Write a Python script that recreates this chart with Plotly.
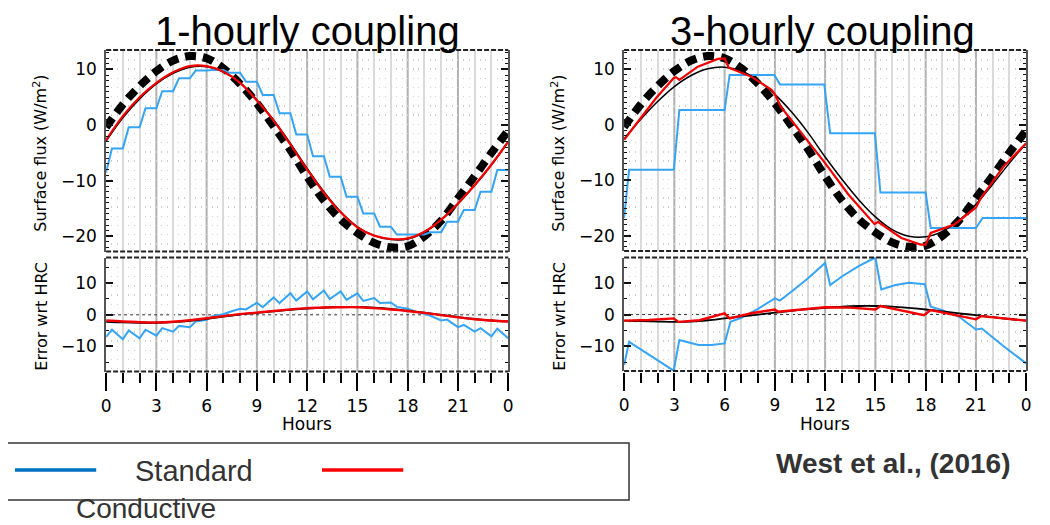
import plotly.graph_objects as go

# page offset of the plot div (browser default body margin)
OFF = 8
FW, FH = 1042, 517

# ---------------- text ----------------
panel_titles = ["1-hourly coupling", "3-hourly coupling"]
series_names = ["Standard", "Conductive"]
y_titles = ["Surface flux (W/m<sup>2</sup>)", "Error wrt HRC"]
x_title = "Hours"
x_tick_vals = [0, 3, 6, 9, 12, 15, 18, 21, 24]
x_tick_text = ["0", "3", "6", "9", "12", "15", "18", "21", "0"]
flux_ticks = [-20, -10, 0, 10]
err_ticks = [-10, 0, 10]
citation = "West et al., (2016)"

# ---------------- data ----------------
hours = list(range(25))

# high-resolution coupling reference (thick dashed black)
hrc_flux = [-0.4, 3.7, 7.0, 9.7, 11.6, 12.4, 12.0, 10.2, 7.4, 3.9, -0.2, -4.5, -9.3,
            -13.6, -17.0, -19.4, -21.2, -22.0, -21.8, -20.0, -17.2, -13.2, -9.2, -5.0, -1.0]

# ---- 1-hourly coupling ----
h1_black_flux = [-2.9, 1.3, 4.7, 7.4, 9.3, 10.4, 10.5, 9.6, 7.6, 4.5, 0.9, -3.3, -7.8,
                 -12.0, -15.6, -18.3, -19.9, -20.6, -20.5, -19.3, -17.1, -14.2, -10.9, -7.2, -3.0]
h1_red_flux = [-2.7, 1.6, 5.0, 7.6, 9.5, 10.6, 10.6, 9.6, 7.6, 4.4, 0.8, -3.5, -8.0,
               -12.2, -15.7, -18.4, -19.9, -20.5, -20.4, -19.2, -17.0, -14.1, -10.8, -7.1, -3.0]
h1_blue_t = [0, 0.35, 1, 1.35, 2, 2.35, 3, 3.35, 4, 4.35, 5, 5.35, 6, 6.35, 7, 7.35, 8, 8.35,
             9, 9.35, 10, 10.35, 11, 11.35, 12, 12.35, 13, 13.35, 14, 14.35, 15, 15.35, 16, 16.35,
             17, 17.35, 18, 18.35, 19, 19.35, 20, 20.35, 21, 21.35, 22, 22.35, 23, 23.35, 24]
h1_blue_flux = [-8.5, -4.2, -4.2, -0.4, -0.4, 3.0, 3.0, 6.1, 6.1, 8.4, 8.4, 9.8, 9.8, 9.9, 9.9,
                9.4, 9.4, 7.8, 7.8, 5.4, 5.4, 2.1, 2.1, -1.7, -1.7, -5.6, -5.6, -9.3, -9.3,
                -12.9, -12.9, -15.9, -15.9, -18.3, -18.3, -19.7, -19.7, -19.7, -19.7, -19.3,
                -19.3, -17.4, -17.4, -15.3, -15.3, -12.0, -12.0, -8.1, -8.1]

h1_black_err = [-2.2, -2.4, -2.5, -2.5, -2.3, -1.9, -1.3, -0.6, 0.1, 0.6, 1.1, 1.6, 2.0,
                2.3, 2.5, 2.5, 2.3, 1.9, 1.3, 0.7, 0.0, -0.7, -1.3, -1.8, -2.1]
h1_red_err = [-1.8, -2.1, -2.3, -2.4, -2.2, -1.7, -1.1, -0.4, 0.2, 0.7, 1.2, 1.7, 2.1,
              2.3, 2.4, 2.4, 2.1, 1.7, 1.2, 0.6, -0.1, -0.8, -1.4, -1.8, -2.1]
h1_blue_err = [-7.0, -4.7, -7.7, -4.9, -7.4, -4.7, -6.6, -4.2, -5.3, -3.5, -3.9, -2.1, -1.6,
               -0.4, 0.2, 0.9, 1.9, 1.7, 3.8, 2.4, 5.5, 3.7, 6.8, 4.5, 7.4, 4.9, 7.7, 5.0,
               7.4, 4.7, 6.8, 4.4, 5.3, 3.7, 3.9, 2.5, 1.9, 1.2, 0.3, -0.3, -1.8, -1.5,
               -3.9, -3.2, -5.3, -4.2, -6.8, -4.4, -7.4]

# ---- 3-hourly coupling ----
h3_black_flux = [-2.5, 1.0, 4.2, 6.9, 8.9, 10.1, 10.4, 9.7, 8.0, 5.5, 2.3, -1.5, -5.8,
                 -9.8, -13.5, -16.6, -18.9, -20.1, -20.2, -19.2, -17.2, -14.3, -10.7, -6.9, -3.3]
h3_red_t = [0, 0.9, 1.9, 2.95, 3.1, 3.3, 4.4, 5.6, 6.0, 6.25, 7.6, 8.8, 9.0, 9.35, 10.7,
            12.0, 13.4, 14.95, 15.15, 16.55, 17.7, 18.0, 18.3, 19.7, 21.0, 21.3, 22.65, 24]
h3_red_flux = [-2.7, 0.9, 4.8, 8.4, 8.6, 8.1, 10.5, 11.9, 12.0, 10.3, 8.7, 6.3, 5.5, 3.3,
               -1.8, -6.9, -12.6, -17.9, -17.5, -20.4, -21.6, -21.6, -19.5, -18.0, -14.9,
               -13.2, -7.5, -3.3]
h3_blue_t = [0, 0.3, 2.97, 3.3, 6.0, 6.3, 8.97, 9.3, 11.95, 12.3, 14.97, 15.3, 18.0, 18.3,
             21.0, 21.4, 24]
h3_blue_flux = [-16.8, -8.1, -8.1, 2.7, 2.7, 9.0, 9.0, 7.3, 7.3, -1.5, -1.5, -12.2, -12.2,
                -18.6, -18.6, -16.8, -16.8]

h3_black_err = [-1.9, -2.1, -2.2, -2.3, -2.2, -1.8, -1.2, -0.6, 0.0, 0.6, 1.2, 1.7, 2.1,
                2.5, 2.7, 2.7, 2.5, 2.1, 1.6, 1.0, 0.4, -0.2, -0.8, -1.4, -1.9]
h3_red_err_t = [0, 1.5, 2.96, 3.25, 4.5, 6.0, 6.3, 7.6, 9.0, 9.2, 12.0, 13.5, 15.0, 15.3,
                17.9, 18.3, 21.0, 21.3, 24]
h3_red_err = [-1.9, -1.7, -1.2, -2.3, -1.8, 0.4, -1.2, 0.4, 1.6, 0.9, 2.3, 2.2, 1.6, 2.7,
              -0.2, 1.4, -1.5, -0.5, -1.9]
h3_blue_err_t = [0, 0.3, 2.96, 3.3, 4.45, 5.2, 6.0, 6.35, 7.0, 8.0, 9.0, 9.3, 10.0, 11.0,
                 12.0, 12.3, 13.0, 14.0, 15.0, 15.35, 16.2, 17.0, 17.95, 18.3, 19.0, 20.0,
                 21.0, 21.35, 22.56, 24]
h3_blue_err = [-15.9, -8.6, -17.7, -8.0, -9.6, -9.6, -9.1, -2.3, -1.0, 1.8, 5.1, 4.4, 7.3,
               11.5, 16.3, 9.3, 12.0, 15.3, 18.0, 7.9, 9.3, 10.0, 9.6, 2.5, 1.4, -0.7, -4.7,
               -4.4, -9.6, -15.4]

# ---------------- styling ----------------
BLUE = "#35A4F4"
RED = "#F20000"
BLACK = "#000000"
LEG_BLUE = "#0070C0"
AXF = "DejaVu Sans"
PPTF = "Liberation Sans, Arial"


def fx(px):
    return (px - OFF) / FW


def fy(py):
    return 1 - (py - OFF) / FH


# panel geometry in page pixels: (x0, x1, ytop, ybottom, yrange, ticks, minor)
panels = {
    1: (102, 508, 50, 251.5, [-22.75, 13.5], flux_ticks, 1),
    2: (102, 508, 257.5, 371.5, [-17.9, 18.1], err_ticks, 5),
    3: (625, 1031, 50, 251, [-22.75, 13.5], flux_ticks, 1),
    4: (625, 1031, 257.5, 371, [-17.8, 18.0], err_ticks, 5),
}
non3_hours = [h for h in hours if h % 3 != 0]

fig = go.Figure()


def add_line(i, x, y, color, width, dash=None, shape="linear", name=None):
    fig.add_trace(go.Scatter(
        x=x, y=y, mode="lines", name=name, showlegend=False,
        line=dict(color=color, width=width, dash=dash, shape=shape),
        xaxis="x" if i == 1 else f"x{i}", yaxis="y" if i == 1 else f"y{i}",
        hoverinfo="skip"))


# top-left
add_line(1, hours, hrc_flux, BLACK, 8, dash="11px,7px", shape="spline")
add_line(1, h1_blue_t, h1_blue_flux, BLUE, 2, name=series_names[0])
add_line(1, hours, h1_black_flux, BLACK, 1.5, shape="spline")
add_line(1, hours, h1_red_flux, RED, 2.2, shape="spline", name=series_names[1])
# bottom-left
add_line(2, h1_blue_t, h1_blue_err, BLUE, 2, name=series_names[0])
add_line(2, hours, h1_black_err, BLACK, 1.8, shape="spline")
add_line(2, hours, h1_red_err, RED, 2.4, shape="spline", name=series_names[1])
# top-right
add_line(3, hours, hrc_flux, BLACK, 8, dash="11px,7px", shape="spline")
add_line(3, h3_blue_t, h3_blue_flux, BLUE, 2, name=series_names[0])
add_line(3, hours, h3_black_flux, BLACK, 1.5, shape="spline")
add_line(3, h3_red_t, h3_red_flux, RED, 2.2, name=series_names[1])
# bottom-right
add_line(4, h3_blue_err_t, h3_blue_err, BLUE, 2, name=series_names[0])
add_line(4, hours, h3_black_err, BLACK, 1.8, shape="spline")
add_line(4, h3_red_err_t, h3_red_err, RED, 2.4, name=series_names[1])

layout = dict(
    width=FW, height=FH, autosize=False,
    margin=dict(l=0, r=0, t=0, b=0),
    paper_bgcolor="white", plot_bgcolor="white",
    showlegend=False,
)

shapes = []
annotations = []

for i, (x0, x1, yt, yb, yr, ticks, mn) in panels.items():
    xk = "xaxis" if i == 1 else f"xaxis{i}"
    yk = "yaxis" if i == 1 else f"yaxis{i}"
    xr = "x" if i == 1 else f"x{i}"
    yrf = "y" if i == 1 else f"y{i}"
    layout[xk] = dict(
        domain=[fx(x0), fx(x1)], anchor=yrf, range=[0, 24],
        tickmode="array", tickvals=non3_hours, showticklabels=False, ticks="",
        showgrid=True, gridcolor="#dadada", gridwidth=1.5,
        minor=dict(tickmode="linear", tick0=0, dtick=1 / 3, showgrid=True,
                   gridcolor="#cfcfcf", gridwidth=1.4, griddash="1.4px,7.8px", ticks=""),
        showline=False, zeroline=False, fixedrange=True,
    )
    layout[yk] = dict(
        domain=[fy(yb), fy(yt)], anchor=xr, range=yr,
        tickmode="array", tickvals=ticks, ticks="inside", ticklen=7, tickwidth=1.5,
        tickcolor="#111",
        minor=dict(tickmode="linear", tick0=0, dtick=mn, ticks="inside", ticklen=3,
                   tickwidth=1, tickcolor="#111", showgrid=False),
        showline=True, linecolor="#555", linewidth=1.5, mirror="ticks",
        showgrid=False, zeroline=False, fixedrange=True,
        tickfont=dict(family=AXF, size=17, color="black"), ticklabelstandoff=4,
    )
    # dashed top / bottom frame edges
    for yy in (yt, yb):
        shapes.append(dict(type="line", xref="paper", yref="paper",
                           x0=fx(x0), x1=fx(x1), y0=fy(yy), y1=fy(yy),
                           line=dict(color="#222", width=2, dash="5px,2px")))
    # darker 3-hour lines
    for hh in x_tick_vals[1:-1]:
        shapes.append(dict(type="line", xref=xr, yref=f"{yrf} domain",
                           x0=hh, x1=hh, y0=0, y1=1, layer="below",
                           line=dict(color="#b0b0b0", width=2)))

# dotted zero line in error panels
for i in (2, 4):
    shapes.append(dict(type="line", xref=f"x{i} domain", yref=f"y{i}",
                       x0=0, x1=1, y0=0, y1=0, layer="below",
                       line=dict(color="#333", width=1, dash="dot")))

# hour axes below the error panels (thin helper subplots)
for j, (x0, x1, yb) in ((5, (102, 508, 371.5)), (6, (625, 1031, 371))):
    layout[f"xaxis{j}"] = dict(
        domain=[fx(x0), fx(x1)], anchor=f"y{j}", range=[0, 24],
        tickmode="array", tickvals=x_tick_vals, ticktext=x_tick_text,
        ticks="outside", ticklen=18, tickwidth=2, tickcolor="black",
        minor=dict(tickmode="linear", tick0=0, dtick=1, ticks="outside", ticklen=10,
                   tickwidth=1.6, tickcolor="black", showgrid=False),
        showgrid=False, showline=False, zeroline=False, fixedrange=True,
        tickfont=dict(family=AXF, size=17, color="black"), ticklabelstandoff=0,
    )
    layout[f"yaxis{j}"] = dict(domain=[fy(yb + 0.8), fy(yb)], anchor=f"x{j}",
                               visible=False, range=[0, 1], fixedrange=True)
    fig.add_trace(go.Scatter(x=[None], y=[None], xaxis=f"x{j}", yaxis=f"y{j}",
                             showlegend=False, hoverinfo="skip"))

# panel titles
for cx, t in zip((305, 825), panel_titles):
    annotations.append(dict(text=t, x=fx(cx), y=fy(31), xref="paper", yref="paper",
                            showarrow=False, xanchor="center", yanchor="middle",
                            font=dict(family=PPTF, size=40, color="black")))
# y titles
for cx in (36, 559):
    for cy, t in zip((153, 316), y_titles):
        annotations.append(dict(text=t, x=fx(cx), y=fy(cy), xref="paper", yref="paper",
                                showarrow=False, textangle=-90, xanchor="center",
                                yanchor="middle",
                                font=dict(family=AXF, size=16, color="black")))
# x titles
for cx in (305, 828):
    annotations.append(dict(text=x_title, x=fx(cx), y=fy(424), xref="paper", yref="paper",
                            showarrow=False, xanchor="center", yanchor="middle",
                            font=dict(family=AXF, size=17, color="black")))

# legend box (drawn)
shapes.append(dict(type="rect", xref="paper", yref="paper",
                   x0=fx(-2), x1=fx(630), y0=fy(500), y1=fy(443),
                   line=dict(color="#333", width=1.5)))
shapes.append(dict(type="line", xref="paper", yref="paper",
                   x0=fx(10), x1=fx(92), y0=fy(470), y1=fy(470),
                   line=dict(color=LEG_BLUE, width=3.5)))
shapes.append(dict(type="line", xref="paper", yref="paper",
                   x0=fx(320), x1=fx(402), y0=fy(470), y1=fy(470),
                   line=dict(color="#FF0000", width=3.5)))
annotations.append(dict(text=series_names[0], x=fx(191), y=fy(471), xref="paper",
                        yref="paper", showarrow=False, xanchor="center", yanchor="middle",
                        font=dict(family=PPTF, size=29, color="#333")))
annotations.append(dict(text=series_names[1], x=fx(142), y=fy(508), xref="paper",
                        yref="paper", showarrow=False, xanchor="center", yanchor="middle",
                        font=dict(family=PPTF, size=28, color="#333")))
annotations.append(dict(text="<b>" + citation + "</b>", x=fx(897), y=fy(463),
                        xref="paper", yref="paper", showarrow=False, xanchor="center",
                        yanchor="middle", font=dict(family=PPTF, size=28, color="#333")))

layout["shapes"] = shapes
layout["annotations"] = annotations
fig.update_layout(**layout)

fig.write_html("out.html")
